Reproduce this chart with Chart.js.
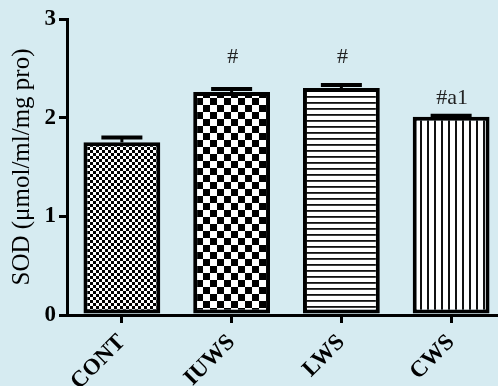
<!DOCTYPE html>
<html>
<head>
<meta charset="utf-8">
<script src="https://cdn.jsdelivr.net/npm/chart.js@4"></script>
<style>
  html, body { margin: 0; padding: 0; background: #d6ebf1; overflow: hidden; }
  #wrap { width: 512px; height: 386px; }
</style>
</head>
<body>
<div id="wrap"><canvas id="sod" width="512" height="386"></canvas></div>
<script>
// SOD activity per group
const groups = ['CONT', 'IUWS', 'LWS', 'CWS'];
const sodMean = [1.75, 2.26, 2.30, 2.01];
const sodErr = [0.05, 0.03, 0.03, 0.01];
const marks = ['', '#', '#', '#a1'];
const markY = [null, 2.61, 2.61, 2.2];
const yTicks = [0, 1, 2, 3];

const serif = '"Liberation Serif", serif';
const ctx = document.getElementById('sod').getContext('2d');

function makePattern(w, h, draw) {
  const c = document.createElement('canvas');
  c.width = w;
  c.height = h;
  const g = c.getContext('2d');
  g.fillStyle = '#fff';
  g.fillRect(0, 0, w, h);
  g.fillStyle = '#000';
  draw(g);
  return ctx.createPattern(c, 'repeat');
}

function checker(n) {
  return makePattern(2 * n, 2 * n, g => {
    g.fillRect(0, 0, n, n);
    g.fillRect(n, n, n, n);
  });
}

const fills = [
  checker(3),
  checker(7),
  makePattern(6, 6, g => { g.fillStyle = '#111'; g.fillRect(0, 0, 6, 1.8); }),
  makePattern(7, 7, g => { g.fillStyle = '#111'; g.fillRect(0, 0, 2, 7); })
];

// error bars + significance marks on top of the bars
const errorBars = {
  id: 'errorBars',
  afterDatasetsDraw(chart) {
    const c = chart.ctx;
    const y = chart.scales.y;
    chart.getDatasetMeta(0).data.forEach((bar, i) => {
      const top = y.getPixelForValue(sodMean[i] + sodErr[i]);
      c.save();
      c.strokeStyle = '#000';
      c.lineWidth = 3;
      c.beginPath();
      c.moveTo(bar.x, bar.y);
      c.lineTo(bar.x, top);
      c.stroke();
      c.lineWidth = 4;
      c.beginPath();
      c.moveTo(bar.x - 20.5, top);
      c.lineTo(bar.x + 20.5, top);
      c.stroke();
      if (marks[i]) {
        c.font = '22px ' + serif;
        c.fillStyle = '#222';
        c.textAlign = 'center';
        c.textBaseline = 'middle';
        c.fillText(marks[i], bar.x + 1, y.getPixelForValue(markY[i]));
      }
      c.restore();
    });
  }
};

new Chart(ctx, {
  type: 'bar',
  data: {
    labels: groups,
    datasets: [{
      data: sodMean,
      backgroundColor: fills,
      borderColor: '#000',
      borderWidth: 4,
      borderSkipped: false,
      barPercentage: 0.7,
      categoryPercentage: 1
    }]
  },
  options: {
    responsive: false,
    animation: false,
    layout: { padding: { top: 19, right: 6, left: 0, bottom: 0 } },
    plugins: {
      legend: { display: false },
      tooltip: { enabled: false }
    },
    scales: {
      x: {
        offset: true,
        grid: { drawOnChartArea: false, offset: false, color: '#000', lineWidth: 3, tickLength: 8 },
        border: { color: '#000', width: 3 },
        ticks: {
          color: '#000',
          font: { family: serif, size: 23, weight: 'bold' },
          minRotation: 45,
          maxRotation: 45,
          padding: 6
        },
        afterFit(s) { s.height = 71; }
      },
      y: {
        min: 0,
        max: 3,
        afterBuildTicks(s) { s.ticks = yTicks.map(v => ({ value: v })); },
        grid: { drawOnChartArea: false, color: '#000', lineWidth: 3, tickLength: 8 },
        border: { color: '#000', width: 3 },
        ticks: {
          color: '#000',
          font: { family: serif, size: 23, weight: 'bold' },
          padding: 3
        },
        title: {
          display: true,
          text: 'SOD (μmol/ml/mg pro)',
          color: '#000',
          font: { family: serif, size: 25 },
          padding: { top: 7, bottom: 0 }
        },
        afterFit(s) { s.width = 67; }
      }
    }
  },
  plugins: [errorBars]
});
</script>
</body>
</html>
